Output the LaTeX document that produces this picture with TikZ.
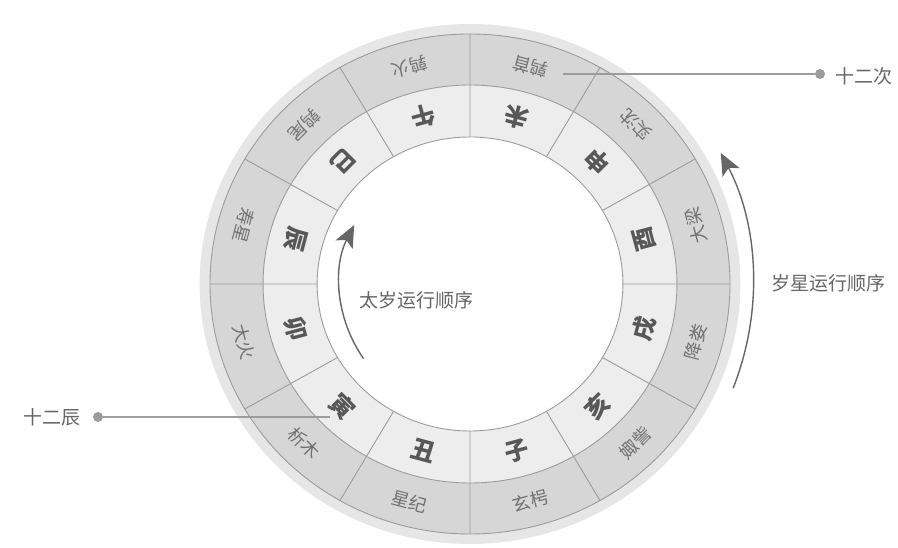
\documentclass[tikz,border=0pt]{standalone}
\usepackage{fontspec}
\newfontfamily\cjk{Noto Sans CJK SC}
\usetikzlibrary{arrows.meta}
\definecolor{halogray}{HTML}{E6E6E6}
\definecolor{outergray}{HTML}{D6D6D6}
\definecolor{innergray}{HTML}{EDEDED}
\definecolor{linegray}{HTML}{9C9C9C}
\definecolor{zhigray}{HTML}{585858}
\definecolor{cigray}{HTML}{717171}
\definecolor{taggray}{HTML}{666666}
\begin{document}
\begin{tikzpicture}[x=1pt,y=1pt]
\tikzset{zhi style/.style={font=\cjk\bfseries\fontsize{24}{24}\selectfont, text=zhigray, inner sep=0pt},
         ci style/.style={font=\cjk\fontsize{18}{18}\selectfont, text=cigray, inner sep=0pt},
         tag style/.style={font=\cjk\fontsize{19}{19}\selectfont, text=taggray, inner sep=0pt},
         dot style/.style={shape=circle, fill=linegray, inner sep=0pt, minimum size=10pt},
         ring line/.style={draw=linegray, line width=0.9pt},
         run arrow/.style={draw=taggray, line width=1.4pt, -{Stealth[length=22pt, width=19pt, inset=5pt]}}}

\useasboundingbox (0,0) rectangle (898,548);

\begin{scope}[shift={(470,264)}, xscale=1.04]
\fill[halogray]  (0,0) circle (260);
\fill[outergray] (0,0) circle (250);
\fill[innergray] (0,0) circle (199);
\fill[white]     (0,0) circle (147);
\draw[ring line] (0,0) circle (250) (0,0) circle (199) (0,0) circle (147);
\draw[ring line]
            (0:147)   -- (0:250)
            (30:147)  -- (30:250)
            (60:147)  -- (60:250)
            (90:147)  -- (90:250)
            (120:147) -- (120:250)
            (150:147) -- (150:250)
            (180:147) -- (180:250)
            (210:147) -- (210:250)
            (240:147) -- (240:250)
            (270:147) -- (270:250)
            (300:147) -- (300:250)
            (330:147) -- (330:250)
;

% inner ring
\node[zhi style, rotate=105] at (15:173)  (you)   {酉};
\node[zhi style, rotate=135] at (45:173)  (shen)  {申};
\node[zhi style, rotate=165] at (75:173)  (wei)   {未};
\node[zhi style, rotate=195] at (105:173) (wu)    {午};
\node[zhi style, rotate=225] at (135:173) (si)    {巳};
\node[zhi style, rotate=255] at (165:173) (chen)  {辰};
\node[zhi style, rotate=285] at (195:173) (mao)   {卯};
\node[zhi style, rotate=315] at (225:173) (yin)   {寅};
\node[zhi style, rotate=345] at (255:173) (chou)  {丑};
\node[zhi style, rotate=15]  at (285:173) (zi)    {子};
\node[zhi style, rotate=45]  at (315:173) (hai)   {亥};
\node[zhi style, rotate=75]  at (345:173) (xu)    {戌};

% outer ring
\node[ci style, rotate=105] at (15:225)  (daliang)  {大梁};
\node[ci style, rotate=135] at (45:225)  (shichen)  {实沈};
\node[ci style, rotate=165] at (75:225)  (chunshou) {鹑首};
\node[ci style, rotate=195] at (105:225) (chunhuo)  {鹑火};
\node[ci style, rotate=225] at (135:225) (chunwei)  {鹑尾};
\node[ci style, rotate=255] at (165:225) (shouxing) {寿星};
\node[ci style, rotate=285] at (195:225) (dahuo)    {大火};
\node[ci style, rotate=315] at (225:225) (ximu)     {析木};
\node[ci style, rotate=345] at (255:225) (xingji)   {星纪};
\node[ci style, rotate=15]  at (285:225) (xuanxiao) {玄枵};
\node[ci style, rotate=45]  at (315:225) (juzi)     {娵訾};
\node[ci style, rotate=75]  at (345:225) (jianglou) {降娄};
\end{scope}

% arrows
\draw[run arrow] (470,264) ++(215:130) arc[start angle=215, end angle=153, radius=130];
\draw[run arrow] (470,264) ++(-21.6:283) arc[start angle=-21.6, end angle=27.6, radius=283];
\node[tag style] at (416,248) (taisui) {太岁运行顺序};
\node[tag style] at (828,265) (suixing) {岁星运行顺序};

% labels
\node[tag style] at (52,131)  (chen12) {十二辰};
\node[dot style] at (98,131)  (chendot) {};
\coordinate (chenend) at (330,131);
\node[tag style] at (864,472) (ci12) {十二次};
\node[dot style] at (820,474) (cidot) {};
\coordinate (ciend) at (563,474);

\draw[draw=linegray, line width=1.2pt]
            (chendot) -- (chenend)
            (cidot)   -- (ciend)
;
\end{tikzpicture}
\end{document}
